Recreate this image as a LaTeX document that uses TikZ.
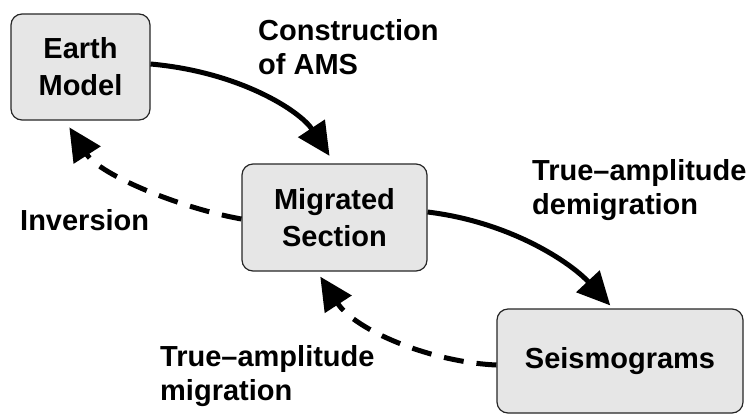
\documentclass[tikz,border=0pt]{standalone}
\usepackage{fontspec}
\setmainfont{Liberation Sans}
\usetikzlibrary{arrows.meta}
\definecolor{boxfill}{HTML}{E6E6E6}
\begin{document}
\begin{tikzpicture}[x=1pt,y=1pt,
  box/.style={draw=black!85,line width=1.2pt,fill=boxfill,rounded corners=11pt,align=center,inner sep=0pt,
    font=\bfseries\fontsize{29}{37}\selectfont},
  lbl/.style={anchor=base west,align=left,inner sep=0pt,font=\bfseries\fontsize{29}{34}\selectfont},
  conn/.style={line width=5pt,-{Triangle[length=33pt,width=31pt]}},
  dconn/.style={conn,dash pattern=on 20pt off 13pt}]
\useasboundingbox (0,0) rectangle (751,-413);
\node[box,minimum width=139pt,minimum height=106pt] (em) at (80.5,-67) {Earth\\Model};
\node[box,minimum width=185pt,minimum height=107pt] (ms) at (334.5,-217.5) {Migrated\\Section};
\node[box,minimum width=246pt,minimum height=104pt] (sg) at (620,-361) {Seismograms};
\node[lbl] (l1) at (258,-74) {Construction\\of AMS};
\node[lbl] (l2) at (532,-214) {True–amplitude\\demigration};
\node[lbl] (l3) at (20,-230) {Inversion};
\node[lbl] (l4) at (160,-400) {True–amplitude\\migration};
\draw[conn,shorten >=9pt] ([yshift=3pt]em.east) .. controls (240,-72) and (300,-111) .. (ms.north);
\draw[conn,shorten >=4pt] ([yshift=5.5pt]ms.east) .. controls (510,-222) and (570,-262) .. ([xshift=-7pt]sg.north);
\draw[dconn,shorten >=8pt] ([yshift=-1.5pt]ms.west) .. controls (180,-208) and (100,-175) .. ([xshift=-15.5pt]em.south);
\draw[dconn,shorten >=6pt] ([yshift=-4pt]sg.west) .. controls (430,-362) and (355,-330) .. ([xshift=-17.5pt]ms.south);
\end{tikzpicture}
\end{document}
